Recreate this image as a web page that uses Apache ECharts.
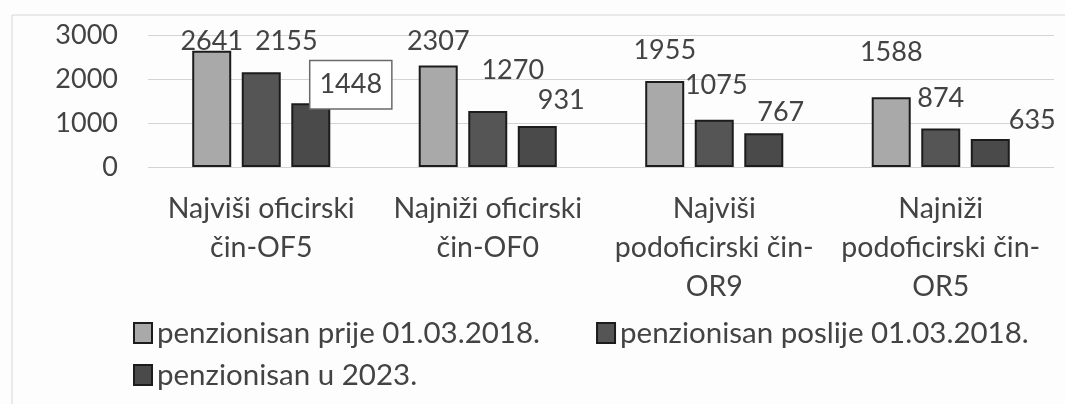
<!DOCTYPE html>
<html>
<head>
<meta charset="utf-8">
<script src="https://cdn.jsdelivr.net/npm/echarts@6/dist/echarts.min.js"></script>
<style>
html,body{margin:0;padding:0;background:#fdfdfd;}
#c{width:1065px;height:404px;}
</style>
</head>
<body>
<div id="c"></div>
<script>
// ---- data ----
var categories = [
  'Najviši oficirski\nčin-OF5',
  'Najniži oficirski\nčin-OF0',
  'Najviši\npodoficirski čin-\nOR9',
  'Najniži\npodoficirski čin-\nOR5'
];
var seriesNames = [
  'penzionisan prije 01.03.2018.',
  'penzionisan poslije 01.03.2018.',
  'penzionisan u 2023.'
];
var prije = [2641, 2307, 1955, 1588];
var poslije = [2155, 1270, 1075, 874];
var u2023 = [1448, 931, 767, 635];
var yTicks = [0, 1000, 2000, 3000];

// ---- layout / style (label nudges, not data) ----
var labelNudge = [
  [[0,0],[0,-15],[0,-21],[0,-35]],
  [[25,-21],[25,-31],[2,-25],[0,-21]],
  [[40,-9],[24,-16],[17,-11],[42,-9]]
];
var fills = ['#a9a9a9', '#555555', '#4a4a4a'];
var textColor = '#434343';
var FONT = 'Lato';

function buildData(vals, si) {
  return vals.map(function (v, i) {
    var n = labelNudge[si][i];
    var item = { value: v, label: { offset: [n[0], n[1]] } };
    if (si === 2 && i === 0) {
      item.label = {
        offset: [n[0], n[1] + 10],
        borderColor: '#6a6a6a',
        borderWidth: 1.5,
        backgroundColor: '#ffffff',
        padding: [10, 9, 10, 9]
      };
    }
    return item;
  });
}

var allVals = [prije, poslije, u2023];
var series = allVals.map(function (vals, si) {
  return {
    name: seriesNames[si],
    type: 'bar',
    barWidth: 39,
    barGap: '27%',
    data: buildData(vals, si),
    itemStyle: { color: fills[si], borderColor: '#1c1c1c', borderWidth: 2 },
    label: {
      show: true,
      position: 'top',
      distance: -4,
      fontFamily: FONT,
      fontSize: 27,
      color: textColor
    },
    emphasis: { disabled: true }
  };
});

var legendText = { fontFamily: FONT, fontSize: 29.5, color: textColor };

var chart = echarts.init(document.getElementById('c'), null, { renderer: 'canvas' });
chart.setOption({
  animation: false,
  backgroundColor: '#fdfdfd',
  textStyle: { fontFamily: FONT },
  graphic: [{
    type: 'rect',
    shape: { x: 12, y: 15, width: 1100, height: 450 },
    style: { fill: 'none', stroke: '#d6d6d6', lineWidth: 1 },
    silent: true, z: -1
  }],
  grid: { left: 148, right: 11, top: 35, bottom: 237, containLabel: false },
  legend: [{
    data: [seriesNames[0], seriesNames[1]],
    left: 133, top: 318, padding: 0,
    itemWidth: 18, itemHeight: 20, itemGap: 56,
    textStyle: legendText,
    icon: 'rect', selectedMode: false
  }, {
    data: [seriesNames[2]],
    left: 133, top: 360, padding: 0,
    itemWidth: 18, itemHeight: 20,
    textStyle: legendText,
    icon: 'rect', selectedMode: false
  }],
  xAxis: {
    type: 'category',
    data: categories,
    axisLine: { show: false },
    axisTick: { show: false },
    axisLabel: {
      interval: 0, margin: 22,
      fontFamily: FONT, fontSize: 28.5, lineHeight: 39, color: textColor,
      align: 'center'
    }
  },
  yAxis: {
    type: 'value',
    min: yTicks[0], max: yTicks[yTicks.length - 1], interval: 1000,
    axisLine: { show: false },
    axisTick: { show: false },
    splitLine: { lineStyle: { color: '#d4d4d4', width: 1 } },
    axisLabel: {
      margin: 30, fontFamily: FONT, fontSize: 27, color: textColor,
      formatter: function (v) { return String(v); }
    }
  },
  series: series
});
</script>
</body>
</html>
